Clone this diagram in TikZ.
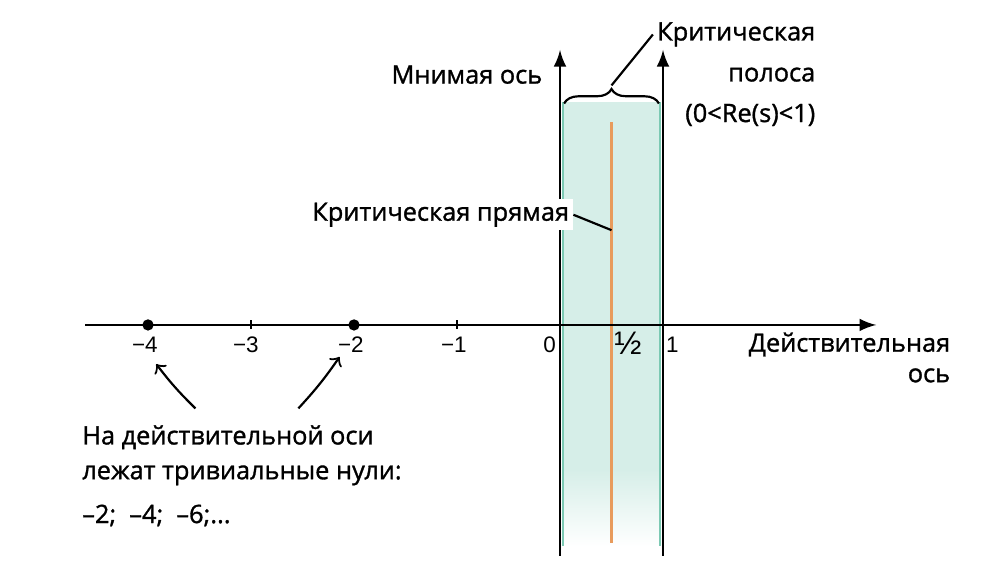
\documentclass[tikz,border=0pt]{standalone}
\usepackage{fontspec}
\setmainfont{Open Sans}[FakeBold=1.2]
\newfontfamily\numfont{Liberation Sans}
\usepackage{tikz}
\usetikzlibrary{arrows,decorations.pathreplacing,positioning}
\definecolor{stripcol}{HTML}{D6EEE8}
\definecolor{edgecol}{HTML}{7CC9B3}
\definecolor{critcol}{HTML}{E89B5C}

\begin{document}
\begin{tikzpicture}[
	hand/.style={font=\fontsize{7}{9}\selectfont, inner sep=1pt},
	num/.style={font=\numfont\fontsize{6.2}{7}\selectfont, inner sep=1pt},
	axis/.style={semithick,->,>=latex},
	scrawl/.style={semithick,->,>=to}]
			\useasboundingbox (-5.437,-2.388) rectangle (4.223,3.155);
			% critical strip
			\fill[stripcol] (0.02,2.16) rectangle (0.98,-1.4);
			\shade[top color=stripcol,bottom color=white] (0.02,-1.4) rectangle (0.98,-2.15);
			\draw[edgecol,line width=0.7pt] (0.03,2.16) -- (0.03,-2.15);
			\draw[edgecol,line width=0.7pt] (0.97,2.16) -- (0.97,-2.15);
			\draw[critcol,line width=0.8pt] (0.5,1.97) -- (0.5,-2.12);
			% axes
			\draw[axis] (-4.61,0) -- (3.07,0);
			\draw[axis] (0,-2.24) -- (0,2.67);
			\draw[axis] (1,-2.24) -- (1,2.67);
			\foreach \x in {-3,-1}
			  \draw[semithick] (\x,-0.04) -- (\x,0.05);
			\fill (-4,0) circle (0.055);
			\fill (-2,0) circle (0.055);
			\node[num] (m4) at (-4.03,-0.19) {−4};
			\node[num] (m3) at (-3.05,-0.19) {−3};
			\node[num] (m2) at (-2.03,-0.19) {−2};
			\node[num] (m1) at (-1.03,-0.19) {−1};
			\node[num] (zero) at (-0.1,-0.19) {0};
			\node[num,font=\numfont\fontsize{9}{10}\selectfont] (half) at (0.66,-0.18) {½};
			\node[num] (one) at (1.09,-0.19) {1};
			% labels
			\node[hand,anchor=east] (realaxis) at (3.83,-0.19) {Действительная};
			\node[hand,anchor=east] (realaxis2) at (3.83,-0.49) {ось};
			\node[hand,anchor=east] (imagaxis) at (-0.13,2.43) {Мнимая ось};
			\node[hand,anchor=east,fill=white] (critline) at (0.13,1.07) {Критическая прямая};
			\draw[semithick] (critline.east) -- (0.5,0.92);
			\draw[semithick,decorate,decoration={brace,amplitude=4pt}] (0.04,2.15) -- (0.96,2.15) coordinate[midway,yshift=5pt] (bracetip);
			\node[hand,anchor=east] (critstrip) at (2.52,2.82) {Критическая};
			\node[hand,anchor=east] (polosa) at (2.52,2.43) {полоса};
			\node[hand,anchor=east] (cond) at (2.52,2.04) {(0<Re(s)<1)};
			\draw[semithick] (bracetip) -- (critstrip.west);
			% trivial zeros
			\node[hand,anchor=west] (note1) at (-4.68,-1.09) {На действительной оси};
			\node[hand,anchor=west] (note2) at (-4.68,-1.46) {лежат тривиальные нули:};
			\node[hand,anchor=west] (note3) at (-4.68,-1.85) {–2;\ \ –4;\ \ –6;...};
			\coordinate (from4) at (-3.54,-0.81);
			\coordinate (from2) at (-2.54,-0.81);
			\draw[scrawl] (from4) to[bend left=4] (-3.92,-0.38);
			\draw[scrawl] (from2) to[bend right=4] (-2.14,-0.31);
\end{tikzpicture}
\end{document}
